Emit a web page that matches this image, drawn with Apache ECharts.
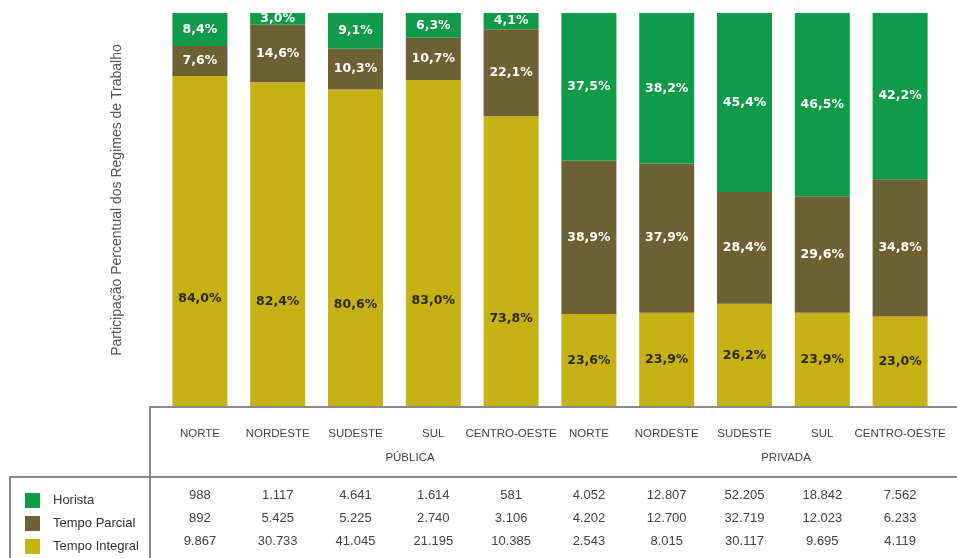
<!DOCTYPE html>
<html>
<head>
<meta charset="utf-8">
<script src="https://cdn.jsdelivr.net/npm/echarts@6/dist/echarts.min.js"></script>
<style>
html,body{margin:0;padding:0;background:#fff;}
#chart{width:957px;height:558px;}
</style>
</head>
<body>
<div id="chart"></div>
<script>
// ---- data ----
const categories = ['NORTE','NORDESTE','SUDESTE','SUL','CENTRO-OESTE','NORTE','NORDESTE','SUDESTE','SUL','CENTRO-OESTE'];
const groups = ['PÚBLICA','PRIVADA'];
const pctHorista  = [8.4, 3.0, 9.1, 6.3, 4.1, 37.5, 38.2, 45.4, 46.5, 42.2];
const pctParcial  = [7.6, 14.6, 10.3, 10.7, 22.1, 38.9, 37.9, 28.4, 29.6, 34.8];
const pctIntegral = [84.0, 82.4, 80.6, 83.0, 73.8, 23.6, 23.9, 26.2, 23.9, 23.0];
const nHorista  = [988, 1117, 4641, 1614, 581, 4052, 12807, 52205, 18842, 7562];
const nParcial  = [892, 5425, 5225, 2740, 3106, 4202, 12700, 32719, 12023, 6233];
const nIntegral = [9867, 30733, 41045, 21195, 10385, 2543, 8015, 30117, 9695, 4119];

const fmtN = n => String(n).replace(/\B(?=(\d{3})+(?!\d))/g, '.');
const fmtP = v => v.toFixed(1).replace('.', ',') + '%';

const C_GREEN = '#0f9b4a', C_BROWN = '#6d6133', C_YELLOW = '#c6b214';
const labelFont = 'DejaVu Sans';

function barSeries(name, data, color, txtColor, itemLabel) {
  return {
    name, type: 'bar', stack: 'total',
    data: data.map((v, i) => itemLabel ? { value: v, label: itemLabel(i) } : v),
    barWidth: 55,
    itemStyle: { color },
    label: {
      show: true, position: 'inside',
      formatter: p => fmtP(p.value),
      color: txtColor, fontWeight: 'bold', fontSize: 12.5, fontFamily: labelFont
    },
    emphasis: { disabled: true }
  };
}

function tableAxis(data, margin) {
  return {
    type: 'category', gridIndex: 0, position: 'bottom', data: data.map(fmtN),
    axisLine: { show: false }, axisTick: { show: false },
    axisLabel: { interval: 0, margin, color: '#444', fontSize: 13, fontFamily: 'Liberation Sans' }
  };
}

const chart = echarts.init(document.getElementById('chart'), null, { renderer: 'canvas' });
chart.setOption({
  animation: false,
  backgroundColor: '#fff',
  grid: { left: 161, right: 18, top: 13, bottom: 151 },
  legend: {
    data: ['Horista', 'Tempo Parcial', 'Tempo Integral'],
    orient: 'vertical', left: 20, top: 488, height: 80,
    itemWidth: 15, itemHeight: 15, itemGap: 8,
    icon: 'rect',
    textStyle: { color: '#333', fontSize: 13, fontFamily: 'Liberation Sans', padding: [0, 0, 0, 8] }
  },
  xAxis: [
    {
      type: 'category', data: categories,
      axisLine: { show: false }, axisTick: { show: false },
      axisLabel: { interval: 0, margin: 21, color: '#444', fontSize: 11.5, fontFamily: 'Liberation Sans' }
    },
    tableAxis(nHorista, 82),
    tableAxis(nParcial, 105),
    tableAxis(nIntegral, 128)
  ],
  yAxis: {
    type: 'value', min: 0, max: 100,
    axisLine: { show: false }, axisTick: { show: false }, axisLabel: { show: false },
    splitLine: { show: false }
  },
  series: [
    barSeries('Tempo Integral', pctIntegral, C_YELLOW, '#2e2a0c', i => (i < 5 ? { offset: [0, 57] } : {})),
    barSeries('Tempo Parcial', pctParcial, C_BROWN, '#ffffff'),
    barSeries('Horista', pctHorista, C_GREEN, '#ffffff')
  ],
  graphic: [
    { type: 'line', shape: { x1: 150, y1: 407, x2: 957, y2: 407 }, style: { stroke: '#8a8a8a', lineWidth: 2 }, z: 10 },
    { type: 'line', shape: { x1: 150, y1: 406, x2: 150, y2: 558 }, style: { stroke: '#8a8a8a', lineWidth: 2 }, z: 10 },
    { type: 'line', shape: { x1: 9, y1: 477, x2: 957, y2: 477 }, style: { stroke: '#8a8a8a', lineWidth: 2 }, z: 10 },
    { type: 'line', shape: { x1: 10, y1: 476, x2: 10, y2: 558 }, style: { stroke: '#8a8a8a', lineWidth: 2 }, z: 10 },
    { type: 'text', x: 410, y: 458, style: { text: groups[0], fill: '#444', fontSize: 11.5, fontFamily: 'Liberation Sans', textAlign: 'center', textVerticalAlign: 'middle' } },
    { type: 'text', x: 786, y: 458, style: { text: groups[1], fill: '#444', fontSize: 11.5, fontFamily: 'Liberation Sans', textAlign: 'center', textVerticalAlign: 'middle' } },
    { type: 'text', x: 117, y: 200, rotation: Math.PI / 2,
      style: { text: 'Participação Percentual dos Regimes de Trabalho', fill: '#555', fontSize: 14, fontFamily: 'Liberation Sans', textAlign: 'center', textVerticalAlign: 'middle' } }
  ]
});
</script>
</body>
</html>
